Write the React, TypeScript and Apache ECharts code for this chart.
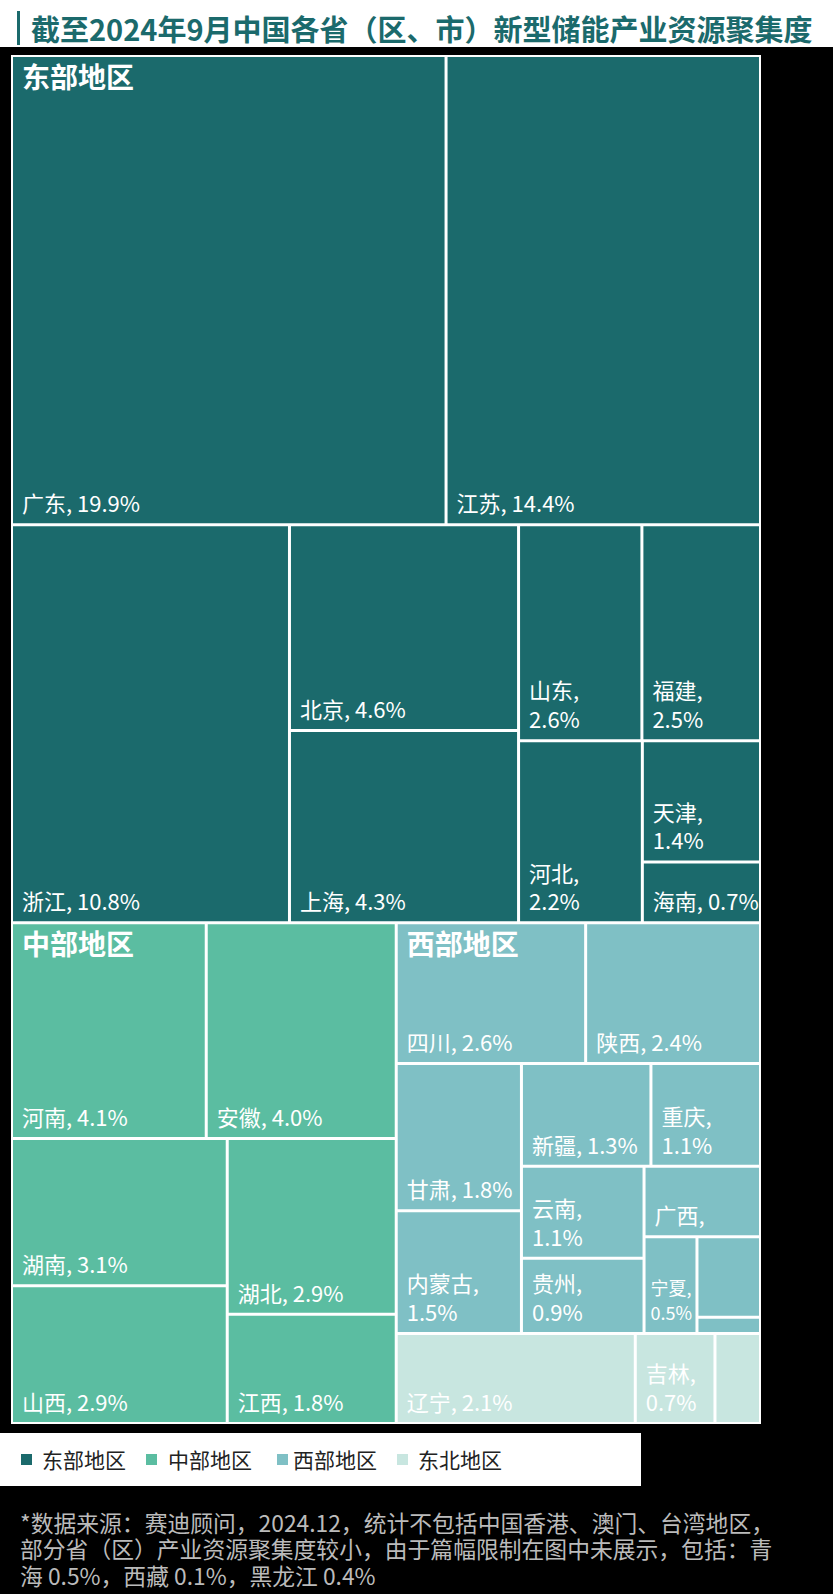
import React, { useEffect, useRef } from 'react';
import * as echarts from 'echarts';

const PAGE_W = 833;
const PAGE_H = 1594;

const titleText = '截至2024年9月中国各省（区、市）新型储能产业资源聚集度';

const regionNames = ['东部地区', '中部地区', '西部地区', '东北地区'];

const eastNames = ['广东', '江苏', '浙江', '北京', '上海', '山东', '福建', '河北', '天津', '海南'];
const eastValues = [19.9, 14.4, 10.8, 4.6, 4.3, 2.6, 2.5, 2.2, 1.4, 0.7];

const centralNames = ['河南', '安徽', '湖南', '山西', '湖北', '江西'];
const centralValues = [4.1, 4.0, 3.1, 2.9, 2.9, 1.8];

const westNames = ['四川', '陕西', '甘肃', '内蒙古', '新疆', '重庆', '云南', '贵州', '广西', '宁夏', '青海', '西藏'];
const westValues = [2.6, 2.4, 1.8, 1.5, 1.3, 1.1, 1.1, 0.9, 0.8, 0.5, 0.5, 0.1];

const northeastNames = ['辽宁', '吉林', '黑龙江'];
const northeastValues = [2.1, 0.7, 0.4];

// provinces whose labels are not shown in the picture
const hiddenLabelNames = ['青海', '西藏', '黑龙江'];
// labels kept on one line in the picture although the cell is narrow
const singleLineNames = ['海南'];
// labels in very narrow cells, set a little tighter
const compactLabelNames = ['宁夏'];

const footnoteLines = [
  '*数据来源：赛迪顾问，2024.12，统计不包括中国香港、澳门、台湾地区，',
  '部分省（区）产业资源聚集度较小，由于篇幅限制在图中未展示，包括：青',
  '海 0.5%，西藏 0.1%，黑龙江 0.4%',
];

const regionColors = ['#1b6a6c', '#5bbda1', '#7fc0c5', '#c8e6e0'];
const FONT = '"Noto Sans CJK SC", "Noto Sans", sans-serif';

const groupNames = [eastNames, centralNames, westNames, northeastNames];
const groupValues = [eastValues, centralValues, westValues, northeastValues];

export default function App() {
  const ref = useRef<HTMLDivElement>(null);

  useEffect(() => {
    document.body.style.margin = '0';
    document.body.style.background = '#000';
    const chart = echarts.init(ref.current as HTMLDivElement, undefined, { renderer: 'svg' });

    const sums = groupValues.map((vals) => vals.reduce((a, b) => a + b, 0));

    const leafLabel = (n: string) => {
      if (hiddenLabelNames.includes(n)) return { show: false };
      if (singleLineNames.includes(n)) return { overflow: 'none' };
      if (compactLabelNames.includes(n)) {
        return {
          fontSize: 18,
          lineHeight: 25,
          padding: [8, 0, 7, 5],
          overflow: 'none',
          formatter: (p: any) => `${p.name},\n${Number(p.value).toFixed(1)}%`,
        };
      }
      return undefined;
    };

    const treeData = regionNames.map((rn, gi) => ({
      name: rn,
      value: sums[gi],
      itemStyle: { color: regionColors[gi] },
      children: groupNames[gi].map((n, i) => ({
        name: n,
        value: groupValues[gi][i],
        itemStyle: { color: regionColors[gi] },
        label: leafLabel(n),
      })),
    }));

    const groupData = regionNames.map((rn, gi) => ({
      name: rn,
      value: sums[gi],
      label: { show: gi < 3 },
    }));

    const treemapBox = { left: 11, top: 55, width: 750, height: 1369 };

    const legendMarkerX = [21, 146, 277, 397];
    const legendTextX = [42, 168, 293, 418];

    const graphics: any[] = [
      { type: 'rect', shape: { x: 0, y: 0, width: PAGE_W, height: 47 }, style: { fill: '#fff' } },
      { type: 'rect', shape: { x: 17, y: 11, width: 3, height: 34 }, style: { fill: '#1b6a6c' } },
      {
        type: 'text',
        x: 31,
        y: 28,
        style: { text: titleText, font: `bold 29px ${FONT}`, fill: '#1b6a6c', verticalAlign: 'middle' },
      },
      { type: 'rect', shape: { x: 0, y: 1433, width: 641, height: 53 }, style: { fill: '#fff' } },
    ];
    regionNames.forEach((rn, i) => {
      graphics.push({
        type: 'rect',
        shape: { x: legendMarkerX[i], y: 1454, width: 11, height: 11 },
        style: { fill: regionColors[i] },
      });
      graphics.push({
        type: 'text',
        x: legendTextX[i],
        y: 1459,
        style: { text: rn, font: `21px ${FONT}`, fill: '#222', verticalAlign: 'middle' },
      });
    });
    graphics.push({
      type: 'text',
      x: 20,
      y: 1509,
      style: {
        text: footnoteLines.join('\n'),
        font: `22.8px ${FONT}`,
        lineHeight: 26.5,
        fill: '#bbbbbb',
        verticalAlign: 'top',
      },
    });

    chart.setOption({
      animation: false,
      backgroundColor: '#000',
      graphic: graphics,
      series: [
        {
          type: 'treemap',
          ...treemapBox,
          roam: false,
          nodeClick: false,
          sort: false,
          squareRatio: 1,
          breadcrumb: { show: false },
          data: treeData,
          label: {
            show: true,
            position: 'insideBottomLeft',
            distance: 0,
            padding: [8, 6, 7, 9],
            color: '#fff',
            fontFamily: FONT,
            fontSize: 22,
            lineHeight: 28.5,
            overflow: 'break',
            formatter: (p: any) => `${p.name}, ${Number(p.value).toFixed(1)}%`,
          },
          upperLabel: { show: false },
          levels: [
            { itemStyle: { borderWidth: 2, borderColor: '#fff', gapWidth: 3 } },
            { itemStyle: { borderWidth: 0, borderColor: '#fff', gapWidth: 3 } },
            { itemStyle: { borderWidth: 0 } },
          ],
          z: 2,
        },
        {
          type: 'treemap',
          ...treemapBox,
          roam: false,
          nodeClick: false,
          sort: false,
          squareRatio: 1,
          silent: true,
          breadcrumb: { show: false },
          data: groupData,
          label: {
            show: true,
            position: 'insideTopLeft',
            distance: 0,
            padding: [5, 8, 0, 9],
            color: '#fff',
            fontFamily: FONT,
            fontSize: 28,
            fontWeight: 'bold',
            formatter: (p: any) => p.name,
          },
          levels: [
            { itemStyle: { borderWidth: 2, borderColor: 'rgba(0,0,0,0)', gapWidth: 3 } },
            { itemStyle: { color: 'rgba(0,0,0,0)', borderWidth: 0, borderColor: 'rgba(0,0,0,0)' } },
          ],
          z: 5,
        },
      ],
    });

    return () => chart.dispose();
  }, []);

  return <div ref={ref} style={{ width: PAGE_W, height: PAGE_H }} />;
}
